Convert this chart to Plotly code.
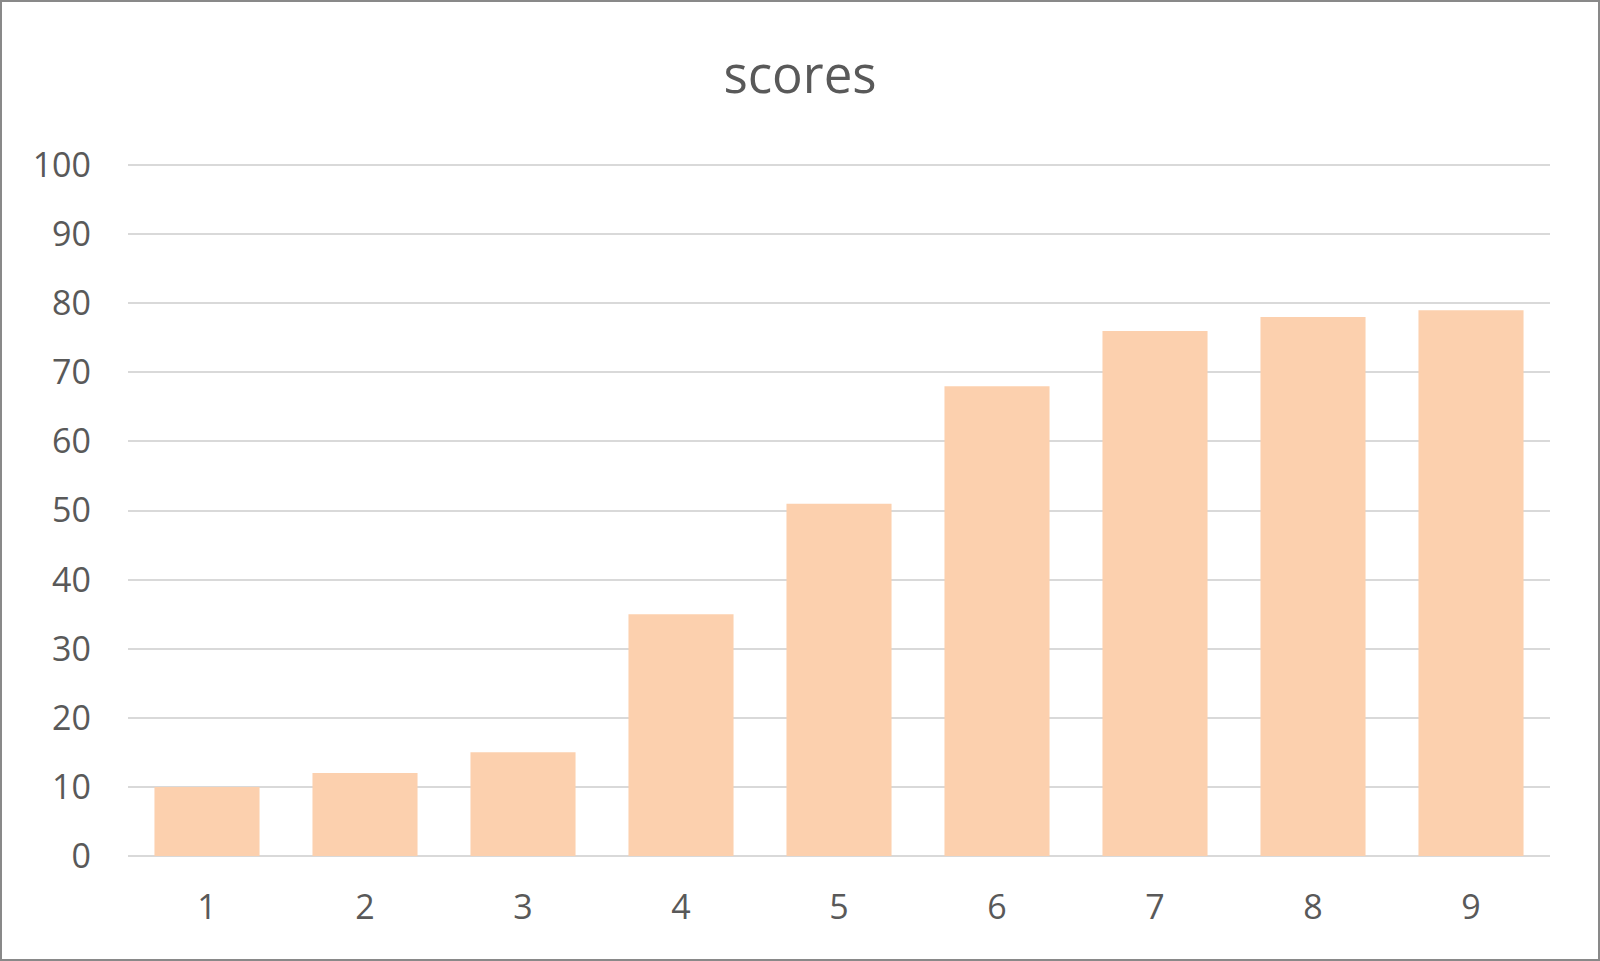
import plotly.graph_objects as go

categories = ["1", "2", "3", "4", "5", "6", "7", "8", "9"]
scores = [10, 12, 15, 35, 51, 68, 76, 78, 79]
y_ticks = [0, 10, 20, 30, 40, 50, 60, 70, 80, 90, 100]

W, H = 1600, 961
ML, MR, MT, MB = 128, 50, 163, 105
pw = W - ML - MR
ph = H - MT - MB

TEXT = "#595959"
GRID = "#D9D9D9"
BAR = "#FCD0AE"
FONT = "Open Sans"

fig = go.Figure(go.Bar(x=categories, y=scores, marker_color=BAR, marker_line_width=0,
                       hoverinfo="skip"))

fig.update_layout(
    width=W, height=H,
    margin=dict(l=ML, r=MR, t=MT, b=MB, pad=0),
    paper_bgcolor="white", plot_bgcolor="white",
    bargap=0.335,
    showlegend=False,
    font=dict(family=FONT, color=TEXT, size=34),
    title=dict(text="scores", x=0.5, xanchor="center", y=1 - 75 / H, yanchor="middle",
               xref="container", yref="container",
               font=dict(family=FONT, size=51, color=TEXT)),
    xaxis=dict(type="category", showgrid=False, zeroline=False, showline=False,
               ticks="", ticklabelstandoff=28,
               tickfont=dict(family=FONT, size=34, color=TEXT)),
    yaxis=dict(range=[0, 100.3], tickvals=y_ticks, showgrid=True, gridcolor=GRID, gridwidth=2,
               zeroline=True, zerolinecolor=GRID, zerolinewidth=2, showline=False,
               ticks="", ticklabelstandoff=36,
               tickfont=dict(family=FONT, size=34, color=TEXT)),
    shapes=[dict(type="rect", xref="paper", yref="paper",
                 x0=(-ML + 1) / pw, x1=(pw + MR - 1) / pw,
                 y0=(-MB + 1) / ph, y1=(ph + MT - 1) / ph,
                 line=dict(color="#898989", width=2), fillcolor="rgba(0,0,0,0)", layer="above")],
)

fig.write_html("out.html", config={"displayModeBar": False},
               post_script="document.body.style.margin='0px';document.body.style.overflow='hidden';")
